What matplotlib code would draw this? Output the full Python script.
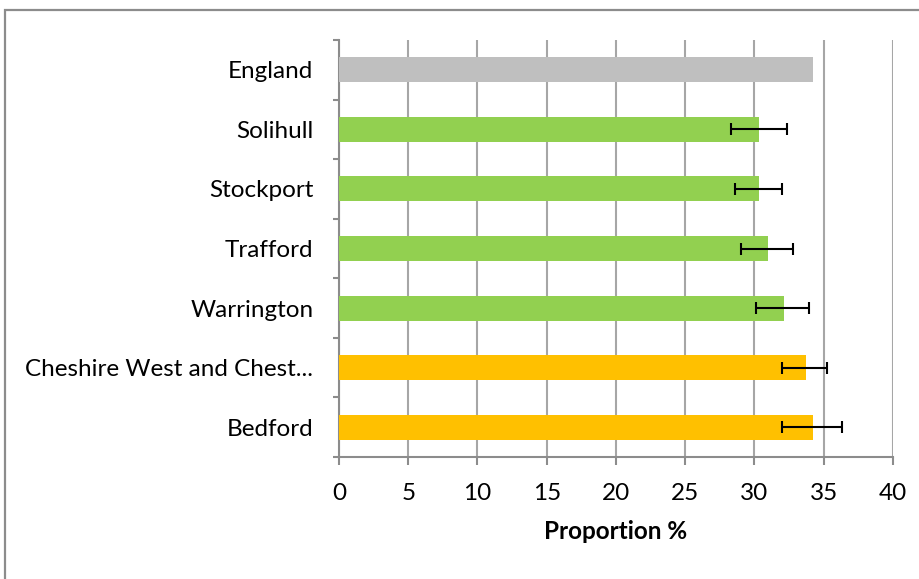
import matplotlib
matplotlib.use("Agg")
import matplotlib.pyplot as plt
from matplotlib.patches import Rectangle
from matplotlib.ticker import FixedLocator

categories = ["England", "Solihull", "Stockport", "Trafford", "Warrington",
              "Cheshire West and Chest...", "Bedford"]
values = [34.2, 30.35, 30.35, 30.95, 32.1, 33.7, 34.2]
err_low = [None, 28.3, 28.6, 29.0, 30.1, 32.0, 31.95]
err_high = [None, 32.35, 31.95, 32.75, 33.95, 35.25, 36.35]
colors = ["#BFBFBF", "#92D050", "#92D050", "#92D050", "#92D050", "#FFC000", "#FFC000"]
xticks = [0, 5, 10, 15, 20, 25, 30, 35, 40]

plt.rcParams['font.family'] = ['Lato', 'DejaVu Sans']

W, H = 920, 579
fig = plt.figure(figsize=(W / 100, H / 100), dpi=100)
fig.patch.set_facecolor("white")

# outer chart frame
fig.add_artist(Rectangle((5 / W, 0 - 0.01), 1.0, (H - 10.5) / H + 0.01,
                         transform=fig.transFigure, fill=False,
                         edgecolor="#8C8C8C", lw=1.6))

ax = fig.add_axes([339 / W, (H - 457) / H, (893 - 339) / W, (457 - 40) / H])
ypos = list(range(len(categories)))
ax.barh(ypos, values, height=0.42, color=colors, zorder=3)

for i in ypos:
    if err_low[i] is None:
        continue
    ax.errorbar(values[i], i,
                xerr=[[values[i] - err_low[i]], [err_high[i] - values[i]]],
                fmt="none", ecolor="black", elinewidth=1.5, capsize=4.3,
                capthick=1.5, zorder=4)

ax.set_xlim(0, 40)
ax.set_ylim(6.5, -0.5)
ax.set_xticks(xticks)
ax.set_xticklabels([str(t) for t in xticks], fontsize=17.5)
ax.set_yticks(ypos)
ax.set_yticklabels(categories, fontsize=17.5)
ax.yaxis.set_minor_locator(FixedLocator([i - 0.5 for i in range(len(categories) + 1)]))
ax.tick_params(axis="y", which="major", length=0, pad=18.5)
ax.tick_params(axis="y", which="minor", length=4.5, width=1.5, color="#8C8C8C")
ax.tick_params(axis="x", which="major", length=6, width=1.5, color="#8C8C8C", pad=12.5)

ax.grid(axis="x", color="#A6A6A6", lw=1.5, zorder=0)
for s in ["top", "right"]:
    ax.spines[s].set_visible(False)
for s in ["left", "bottom"]:
    ax.spines[s].set_color("#8C8C8C")
    ax.spines[s].set_linewidth(1.5)

ax.set_xlabel("Proportion %", fontsize=17.5, fontweight="bold", labelpad=12)

fig.savefig("out.png", dpi=100, facecolor="white")
